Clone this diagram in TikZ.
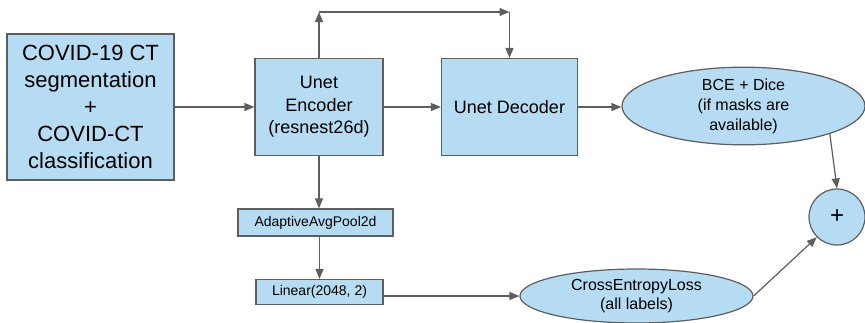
\documentclass[tikz,border=0pt]{standalone}
\usepackage{fontspec}
\setmainfont{Liberation Sans}
\usetikzlibrary{arrows.meta,shapes.geometric}
\definecolor{boxfill}{RGB}{181,220,243}
\definecolor{edgegray}{RGB}{94,94,94}
\begin{document}
\begin{tikzpicture}[x=1pt,y=-1pt,
  blk/.style={draw=edgegray,fill=boxfill,line width=1.2pt,inner sep=0pt,align=center},
  oval/.style={ellipse,draw=edgegray,fill=boxfill,line width=1.2pt,inner sep=0pt,align=center},
  flow/.style={draw=edgegray,line width=1.2pt,-{Triangle[length=10pt,width=8pt]}}]
\useasboundingbox (0,0) rectangle (865,322);

% main path
\node[blk,minimum width=167pt,minimum height=146pt,font=\fontsize{22}{27}\selectfont]
  (data) at (90.5,107) {COVID-19 CT\\segmentation\\+\\COVID-CT\\classification};
\node[blk,minimum width=128pt,minimum height=97pt,font=\fontsize{18}{22.5}\selectfont]
  (enc) at (319,107) {Unet\\Encoder\\(resnest26d)};
\node[blk,minimum width=136pt,minimum height=97pt,font=\fontsize{18}{22.5}\selectfont]
  (dec) at (509.5,107) {Unet Decoder};
\node[oval,minimum width=243pt,minimum height=74pt,font=\fontsize{16}{20}\selectfont]
  (bce) at (743.5,106) {BCE + Dice\\(if masks are\\available)};
\node[circle,draw=edgegray,fill=boxfill,line width=1.2pt,minimum size=56pt,inner sep=0pt,
  font=\fontsize{24}{28}\selectfont] (plus) at (837,217) {+};

% classification head
\node[blk,minimum width=155pt,minimum height=27pt,font=\fontsize{14}{17}\selectfont]
  (pool) at (315.5,222.5) {AdaptiveAvgPool2d};
\node[blk,minimum width=127pt,minimum height=25pt,font=\fontsize{14}{17}\selectfont]
  (lin) at (319.5,292) {Linear(2048, 2)};
\node[oval,minimum width=233pt,minimum height=54pt,font=\fontsize{16}{19}\selectfont]
  (ce) at (636.5,296) {CrossEntropyLoss\\(all labels)};

% skip connection over the top
\coordinate (topy) at (0,12);
\coordinate (t1) at (enc.north |- topy);
\coordinate (t2) at (dec.north |- topy);

\draw[flow] (data.east) -- (enc.west);
\draw[flow] (enc.east) -- (dec.west);
\draw[flow] (dec.east) -- (bce.west |- dec.east);
\draw[flow] (enc.north) -- (t1);
\draw[flow] (t1) -- (t2);
\draw[flow] (t2) -- (dec.north);
\draw[flow] (enc.south) -- (enc.south |- pool.north);
\draw[flow] (pool.south -| lin.north) -- (lin.north);
\draw[flow] (lin.east |- ce.west) -- (ce.west);
\draw[flow] (bce.south east) -- (plus.north);
\draw[flow] (ce.east) -- (plus.south west);
\end{tikzpicture}
\end{document}
